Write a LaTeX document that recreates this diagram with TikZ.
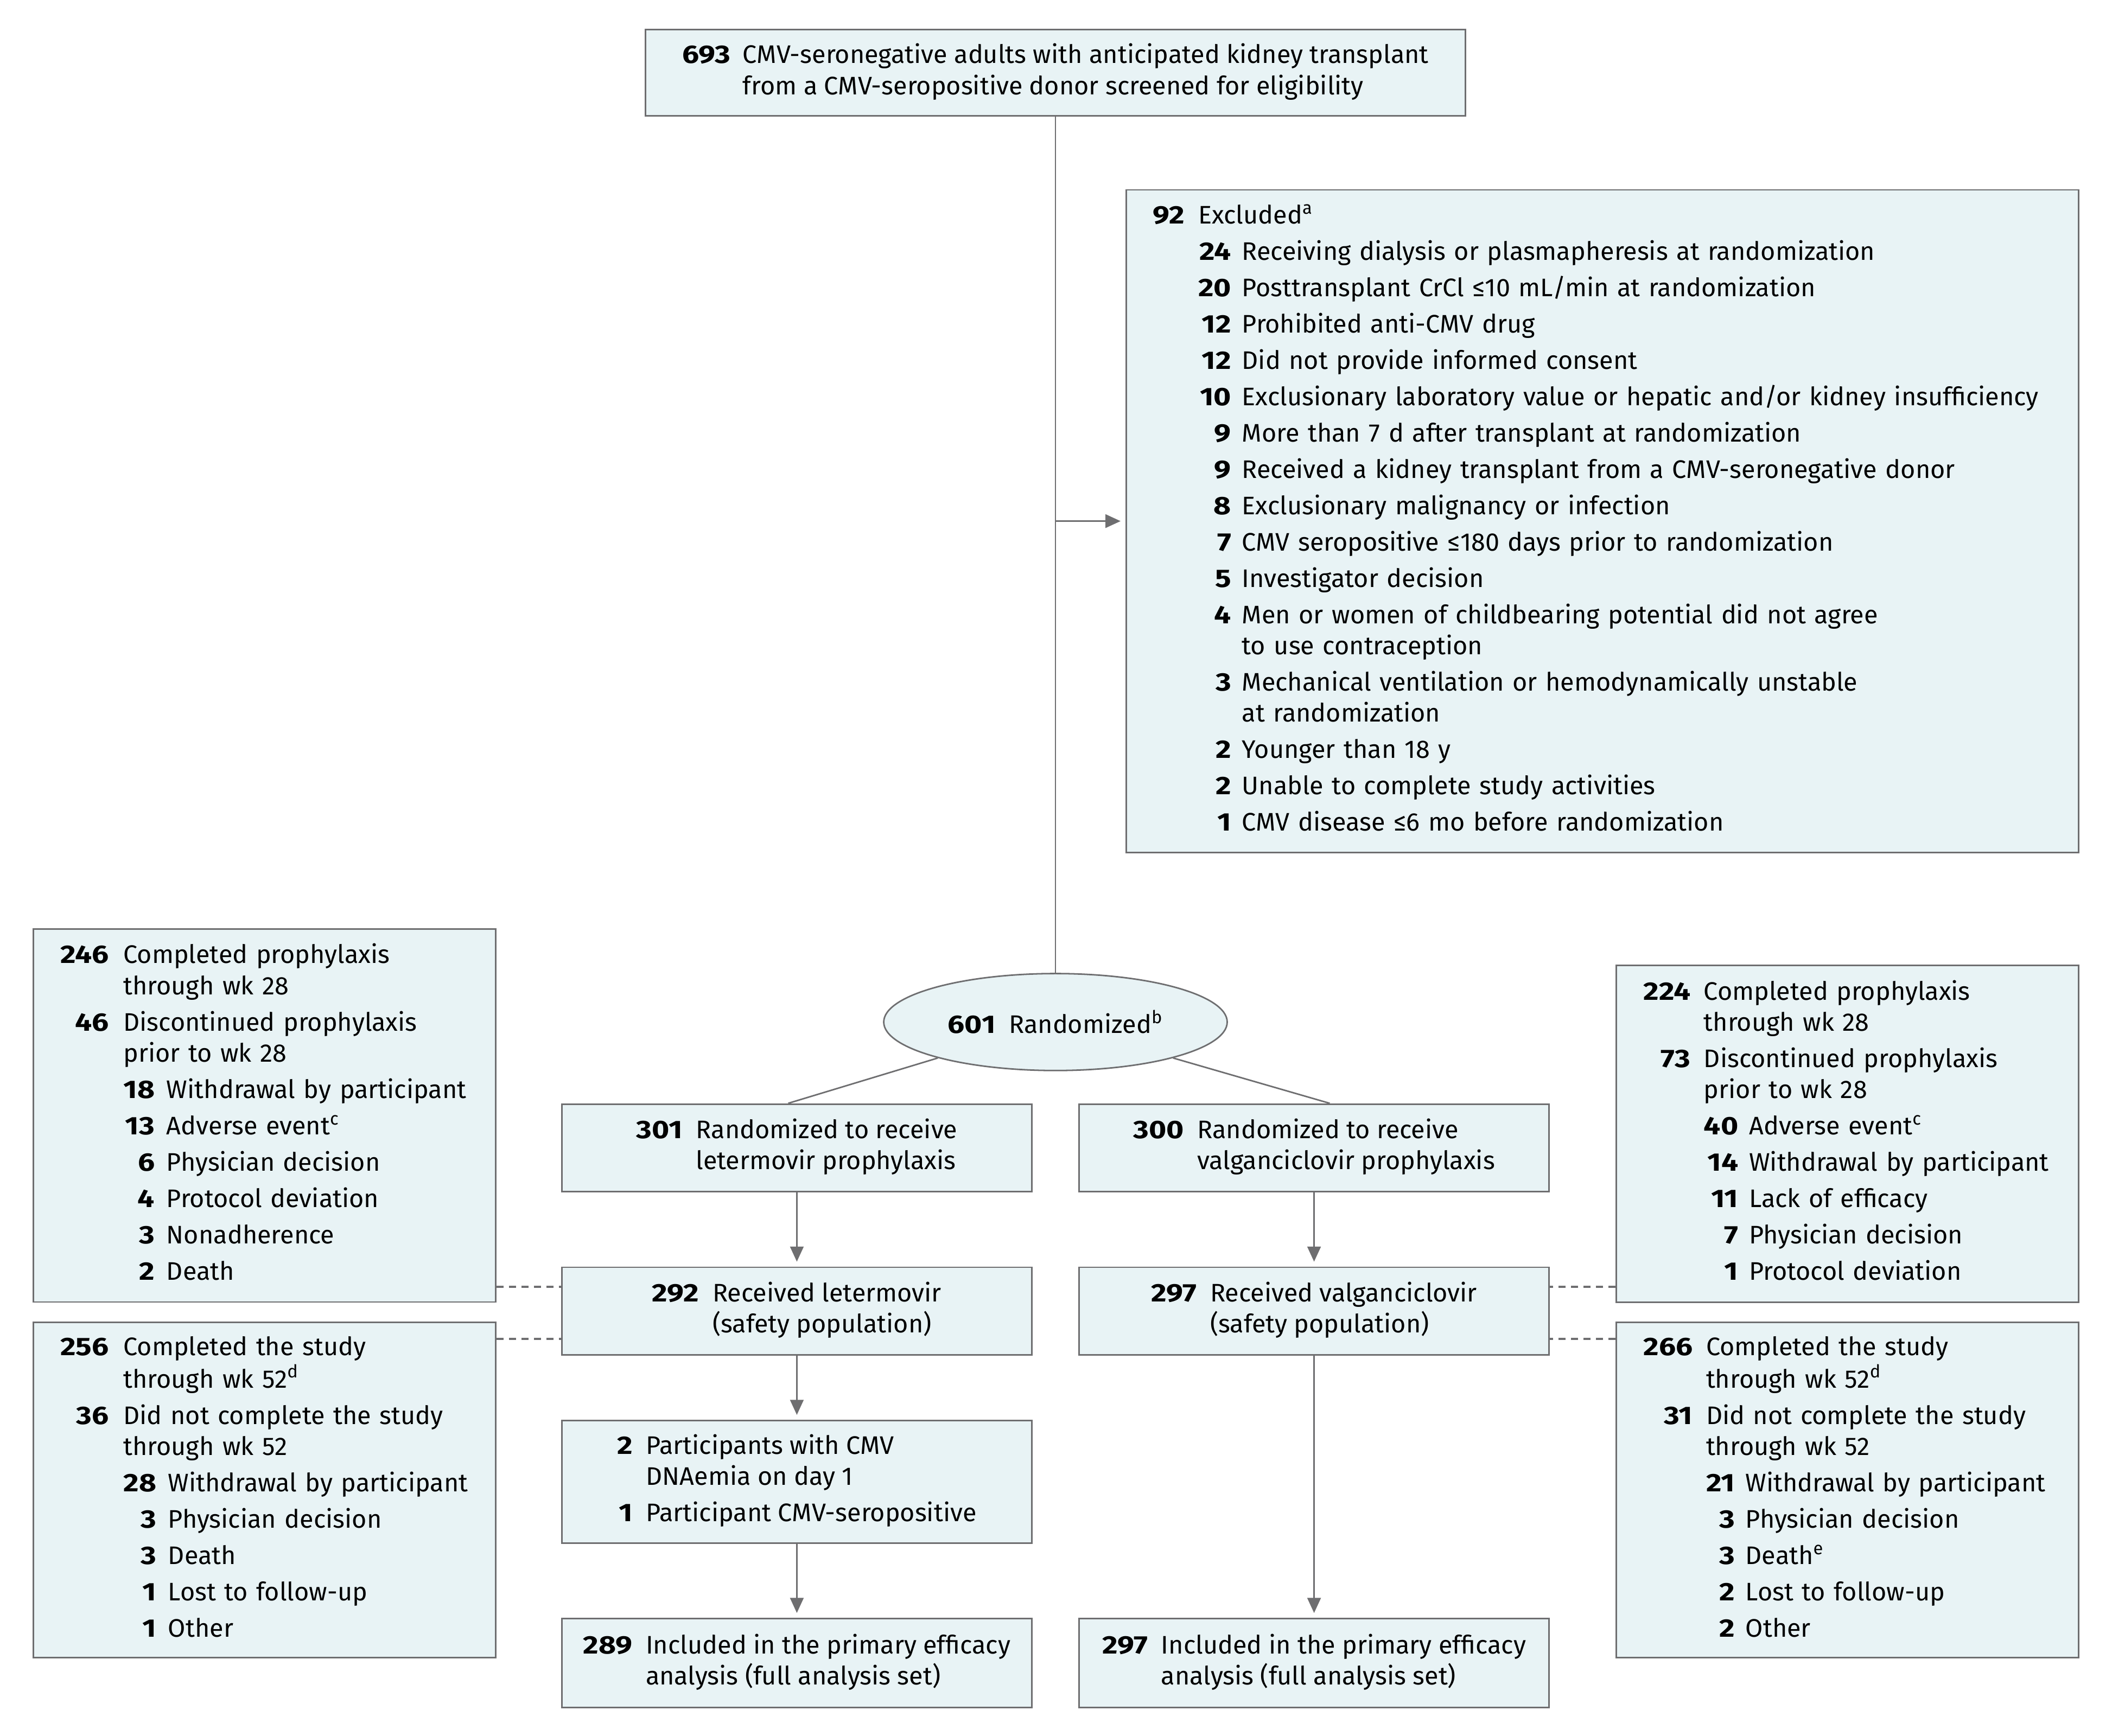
\documentclass[tikz,border=0pt]{standalone}
\usepackage{fontspec}
\setmainfont{Fira Sans}[BoldFeatures={FakeStretch=1.18}]
\usetikzlibrary{arrows.meta,shapes.geometric}

\definecolor{boxfill}{RGB}{232,243,245}
\definecolor{linegray}{RGB}{110,110,112}

\newcommand{\wide}[1]{\multicolumn{2}{@{}l@{}}{#1}}

\begin{document}
\begin{tikzpicture}[
  font=\fontsize{13.4pt}{16.4pt}\selectfont,
  box/.style={draw=linegray,fill=boxfill,line width=0.8pt,inner sep=0pt,
    minimum width=8.725cm,minimum height=1.625cm},
  listbox/.style={box,inner xsep=0.5cm,text width=7.575cm,minimum width=8.575cm},
  conn/.style={draw=linegray,line width=0.8pt},
  arr/.style={conn,-{Triangle[length=2.8mm,width=2.5mm]},shorten >=0.9mm},
  dashline/.style={conn,line width=1.1pt,dash pattern=on 3.8pt off 2.8pt}]
\useasboundingbox (0,0) rectangle (39.2,-32.225);

% screening and exclusion
\node[box,minimum width=15.225cm,minimum height=1.6cm] (top) at (19.59,-1.35)
  {\begin{tabular}{@{}r@{\hspace{0.23cm}}l@{}}
   \textbf{693} & CMV-seronegative adults with anticipated kidney transplant\\
   & from a CMV-seropositive donor screened for eligibility
   \end{tabular}};

\node[listbox,text width=16.675cm,minimum width=17.675cm,minimum height=12.3cm] (excl) at (29.74,-9.675)
  {\begin{tabular}{@{}r@{\hspace{0.25cm}}r@{\hspace{0.2cm}}l@{}}
   \textbf{92} & \wide{Excluded\textsuperscript{a}}\\[2.8pt]
   & \textbf{24} & Receiving dialysis or plasmapheresis at randomization\\[2.8pt]
   & \textbf{20} & Posttransplant CrCl ≤10 mL/min at randomization\\[2.8pt]
   & \textbf{12} & Prohibited anti-CMV drug\\[2.8pt]
   & \textbf{12} & Did not provide informed consent\\[2.8pt]
   & \textbf{10} & Exclusionary laboratory value or hepatic and/or kidney insufficiency\\[2.8pt]
   & \textbf{9} & More than 7 d after transplant at randomization\\[2.8pt]
   & \textbf{9} & Received a kidney transplant from a CMV-seronegative donor\\[2.8pt]
   & \textbf{8} & Exclusionary malignancy or infection\\[2.8pt]
   & \textbf{7} & CMV seropositive ≤180 days prior to randomization\\[2.8pt]
   & \textbf{5} & Investigator decision\\[2.8pt]
   & \textbf{4} & Men or women of childbearing potential did not agree\\
   & & to use contraception\\[2.8pt]
   & \textbf{3} & Mechanical ventilation or hemodynamically unstable\\
   & & at randomization\\[2.8pt]
   & \textbf{2} & Younger than 18 y\\[2.8pt]
   & \textbf{2} & Unable to complete study activities\\[2.8pt]
   & \textbf{1} & CMV disease ≤6 mo before randomization
   \end{tabular}};

% randomization
\node[draw=linegray,fill=boxfill,line width=0.8pt,ellipse,inner sep=0pt,
  minimum width=6.375cm,minimum height=1.8cm] (rand) at (19.59,-18.975)
  {\textbf{601}\hspace{0.25cm}Randomized\textsuperscript{b}};

\node[box] (letR) at (14.79,-21.31)
  {\begin{tabular}{@{}r@{\hspace{0.25cm}}l@{}}
   \textbf{301} & Randomized to receive\\ & letermovir prophylaxis
   \end{tabular}};
\node[box] (valR) at (24.39,-21.31)
  {\begin{tabular}{@{}r@{\hspace{0.25cm}}l@{}}
   \textbf{300} & Randomized to receive\\ & valganciclovir prophylaxis
   \end{tabular}};

\node[box] (letS) at (14.79,-24.34)
  {\begin{tabular}{@{}r@{\hspace{0.25cm}}l@{}}
   \textbf{292} & Received letermovir\\ & (safety population)
   \end{tabular}};
\node[box] (valS) at (24.39,-24.34)
  {\begin{tabular}{@{}r@{\hspace{0.25cm}}l@{}}
   \textbf{297} & Received valganciclovir\\ & (safety population)
   \end{tabular}};

\node[box,minimum height=2.275cm] (dnae) at (14.79,-27.51)
  {\begin{tabular}{@{}r@{\hspace{0.25cm}}l@{}}
   \textbf{2} & Participants with CMV\\ & DNAemia on day 1\\[2.8pt]
   \textbf{1} & Participant CMV-seropositive
   \end{tabular}};

\node[box,minimum height=1.65cm] (letF) at (14.79,-30.875)
  {\begin{tabular}{@{}r@{\hspace{0.25cm}}l@{}}
   \textbf{289} & Included in the primary efficacy\\ & analysis (full analysis set)
   \end{tabular}};
\node[box,minimum height=1.65cm] (valF) at (24.39,-30.875)
  {\begin{tabular}{@{}r@{\hspace{0.25cm}}l@{}}
   \textbf{297} & Included in the primary efficacy\\ & analysis (full analysis set)
   \end{tabular}};

% side boxes, letermovir
\node[listbox,minimum height=6.925cm] (letProph) at (4.91,-20.71)
  {\begin{tabular}{@{}r@{\hspace{0.27cm}}r@{\hspace{0.22cm}}l@{}}
   \textbf{246} & \wide{Completed prophylaxis}\\
   & \wide{through wk 28}\\[2.8pt]
   \textbf{46} & \wide{Discontinued prophylaxis}\\
   & \wide{prior to wk 28}\\[2.8pt]
   & \textbf{18} & Withdrawal by participant\\[2.8pt]
   & \textbf{13} & Adverse event\textsuperscript{c}\\[2.8pt]
   & \textbf{6} & Physician decision\\[2.8pt]
   & \textbf{4} & Protocol deviation\\[2.8pt]
   & \textbf{3} & Nonadherence\\[2.8pt]
   & \textbf{2} & Death
   \end{tabular}};
\node[listbox,minimum height=6.225cm] (letStudy) at (4.91,-27.66)
  {\begin{tabular}{@{}r@{\hspace{0.27cm}}r@{\hspace{0.22cm}}l@{}}
   \textbf{256} & \wide{Completed the study}\\
   & \wide{through wk 52\textsuperscript{d}}\\[2.8pt]
   \textbf{36} & \wide{Did not complete the study}\\
   & \wide{through wk 52}\\[2.8pt]
   & \textbf{28} & Withdrawal by participant\\[2.8pt]
   & \textbf{3} & Physician decision\\[2.8pt]
   & \textbf{3} & Death\\[2.8pt]
   & \textbf{1} & Lost to follow-up\\[2.8pt]
   & \textbf{1} & Other
   \end{tabular}};

% side boxes, valganciclovir
\node[listbox,minimum height=6.25cm] (valProph) at (34.29,-21.05)
  {\begin{tabular}{@{}r@{\hspace{0.25cm}}r@{\hspace{0.2cm}}l@{}}
   \textbf{224} & \wide{Completed prophylaxis}\\
   & \wide{through wk 28}\\[2.8pt]
   \textbf{73} & \wide{Discontinued prophylaxis}\\
   & \wide{prior to wk 28}\\[2.8pt]
   & \textbf{40} & Adverse event\textsuperscript{c}\\[2.8pt]
   & \textbf{14} & Withdrawal by participant\\[2.8pt]
   & \textbf{11} & Lack of efficacy\\[2.8pt]
   & \textbf{7} & Physician decision\\[2.8pt]
   & \textbf{1} & Protocol deviation
   \end{tabular}};
\node[listbox,minimum height=6.225cm] (valStudy) at (34.29,-27.66)
  {\begin{tabular}{@{}r@{\hspace{0.25cm}}r@{\hspace{0.2cm}}l@{}}
   \textbf{266} & \wide{Completed the study}\\
   & \wide{through wk 52\textsuperscript{d}}\\[2.8pt]
   \textbf{31} & \wide{Did not complete the study}\\
   & \wide{through wk 52}\\[2.8pt]
   & \textbf{21} & Withdrawal by participant\\[2.8pt]
   & \textbf{3} & Physician decision\\[2.8pt]
   & \textbf{3} & Death\textsuperscript{e}\\[2.8pt]
   & \textbf{2} & Lost to follow-up\\[2.8pt]
   & \textbf{2} & Other
   \end{tabular}};

% connectors
\draw[conn] (top) -- (rand);
\draw[arr] (top.south |- excl.west) -- (excl.west);
\draw[conn] (rand.197) -- ([xshift=-0.16cm]letR.north);
\draw[conn] (rand.-17) -- ([xshift=0.29cm]valR.north);
\draw[arr] (letR) -- (letS);
\draw[arr] (valR) -- (valS);
\draw[arr] (letS) -- (dnae);
\draw[arr] (dnae) -- (letF);
\draw[arr] (valS) -- (valF);

\draw[dashline] ([yshift=0.3cm]letProph.south east) -- ([yshift=0.3cm]letProph.south east -| letS.west);
\draw[dashline] ([yshift=-0.325cm]letStudy.north east) -- ([yshift=-0.325cm]letStudy.north east -| letS.west);
\draw[dashline] ([yshift=0.3cm]valProph.south west) -- ([yshift=0.3cm]valProph.south west -| valS.east);
\draw[dashline] ([yshift=-0.325cm]valStudy.north west) -- ([yshift=-0.325cm]valStudy.north west -| valS.east);
\end{tikzpicture}
\end{document}
